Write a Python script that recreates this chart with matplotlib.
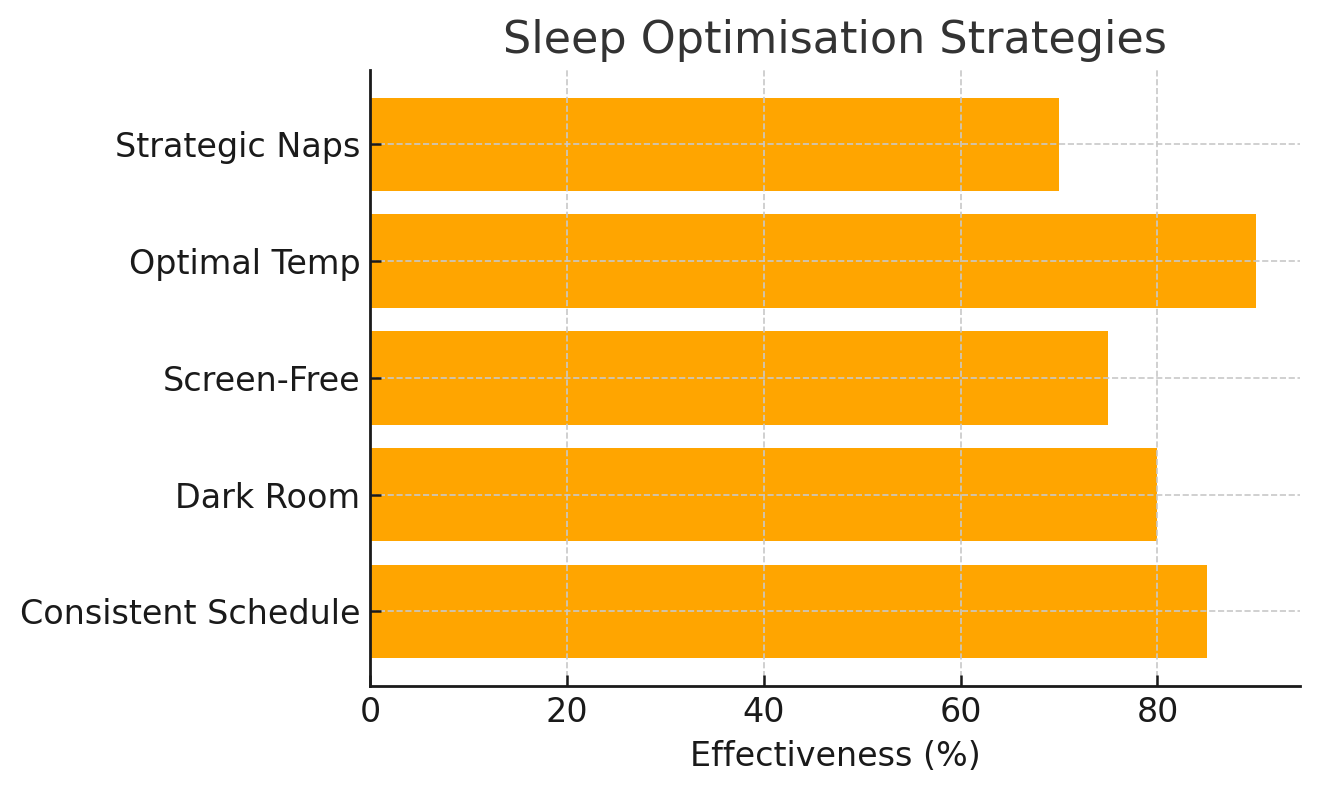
import matplotlib
matplotlib.use("Agg")
import matplotlib.pyplot as plt

# strategies, bottom to top as drawn
strategies = ["Consistent Schedule", "Dark Room", "Screen-Free", "Optimal Temp", "Strategic Naps"]
effectiveness = [85, 80, 75, 90, 70]

fig = plt.figure(figsize=(6.6, 3.965), dpi=200)
ax = fig.add_axes([0.2803, 0.135, 0.7047, 0.777])

ax.barh(strategies, effectiveness, height=0.8, color="#FFA500", zorder=1)

ax.grid(True, linestyle="--", color="#c8c8c8", linewidth=0.6, zorder=2)
ax.set_axisbelow(False)

ax.spines["top"].set_visible(False)
ax.spines["right"].set_visible(False)
for s in ("left", "bottom"):
    ax.spines[s].set_linewidth(1.0)
    ax.spines[s].set_color("#1a1a1a")
    ax.spines[s].set_zorder(5)

ax.tick_params(direction="in", length=4, width=0.9, colors="#1a1a1a", labelsize=12)
ax.set_xlabel("Effectiveness (%)", fontsize=12, color="#1a1a1a")
ax.set_title("Sleep Optimisation Strategies", fontsize=16, color="#333333")

fig.savefig("out.png", dpi=200, facecolor="white")
